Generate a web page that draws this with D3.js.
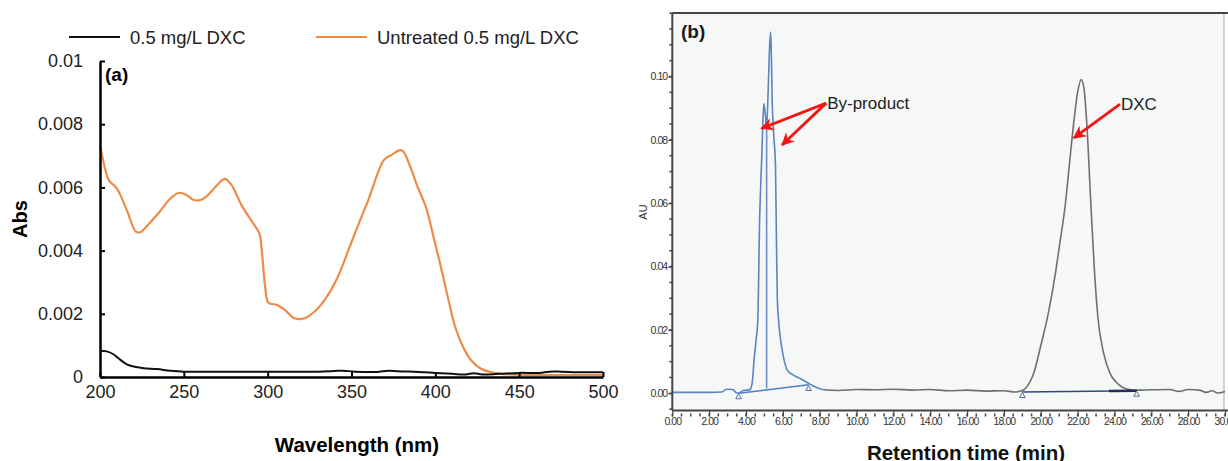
<!DOCTYPE html>
<html>
<head>
<meta charset="utf-8">
<script src="https://cdn.jsdelivr.net/npm/d3@7"></script>
<style>
  body { margin: 0; background: #fff; }
  svg { display: block; font-family: "Liberation Sans", Arial, sans-serif; }
</style>
</head>
<body>
<svg width="1228" height="461"></svg>
<script>
// ---- panel (a): UV-vis spectra ----
var wavelengthTicks = [200, 250, 300, 350, 400, 450, 500];
var absTicks = [0, 0.002, 0.004, 0.006, 0.008, 0.01];
var seriesNames = ['0.5 mg/L DXC', 'Untreated 0.5 mg/L DXC'];

var treated = [
  [200, 0.00083], [204, 0.00081], [208, 0.00072], [212, 0.00055], [216, 0.0004],
  [220, 0.00033], [226, 0.00028], [234, 0.00025], [242, 0.0002], [250, 0.00017],
  [270, 0.00017], [300, 0.00017], [330, 0.00017], [340, 0.00019], [345, 0.0002],
  [352, 0.00017], [365, 0.00016], [372, 0.0002], [378, 0.00018], [390, 0.00016],
  [400, 0.00013], [410, 0.0001], [418, 0.00008], [423, 0.00012], [428, 0.00008],
  [438, 0.0001], [450, 0.00013], [462, 0.00013], [468, 0.00017], [475, 0.00017],
  [485, 0.00015], [500, 0.00015]
];

var untreated = [
  [200, 0.00733], [203, 0.0066], [205.2, 0.00623], [210, 0.00597], [216, 0.00528],
  [221.4, 0.0046], [224, 0.00458], [226.6, 0.0047], [234.8, 0.00518], [242, 0.00565],
  [247.2, 0.00583], [251.5, 0.00576], [256, 0.0056], [260, 0.0056], [263, 0.00569],
  [269, 0.00602], [274.4, 0.00627], [278.4, 0.00608], [284.4, 0.00544], [291.4, 0.00486],
  [295, 0.00455], [296.5, 0.004], [298.5, 0.00286], [300.5, 0.00235], [305.6, 0.00228],
  [310.3, 0.00212], [316, 0.00186], [322, 0.00186], [329, 0.00212], [334, 0.00244],
  [341, 0.00307], [350.5, 0.00434], [360, 0.0056], [369.4, 0.00687], [374, 0.00703],
  [379, 0.00718], [381, 0.00713], [385.8, 0.00655], [389.4, 0.00602], [394.3, 0.00539],
  [398.9, 0.00444], [403.7, 0.00339], [408.3, 0.00233], [411.8, 0.00159], [416.5, 0.00096],
  [421.2, 0.00054], [427, 0.00027], [434.3, 0.00014], [445, 0.00008], [460, 0.00006],
  [480, 0.00006], [500, 0.00006]
];

// ---- panel (b): HPLC chromatogram ----
var timeMajorTicks = d3.range(0, 30.01, 2);
var timeMinorTicks = d3.range(0, 30.01, 0.5);
var auMajorTicks = [0, 0.02, 0.04, 0.06, 0.08, 0.10];
var auMinorTicks = d3.range(-0.005, 0.1201, 0.005);

var byproductTrace = [
  [0, 0.0003], [1, 0.0003], [2, 0.0003], [2.7, 0.0004], [2.9, 0.0012], [3.1, 0.0013],
  [3.3, 0.0011], [3.5, 0.0001], [3.65, 0.0002], [3.85, 0.0009], [4.1, 0.001], [4.23, 0.0012],
  [4.35, 0.004], [4.44, 0.0107], [4.55, 0.017], [4.64, 0.023], [4.74, 0.0548], [4.85, 0.0737],
  [4.92, 0.086], [4.97, 0.0914], [5.05, 0.088], [5.12, 0.084], [5.2, 0.095], [5.27, 0.108],
  [5.34, 0.114], [5.38, 0.106], [5.42, 0.093], [5.5, 0.082], [5.6, 0.072], [5.65, 0.05],
  [5.7, 0.03], [5.77, 0.023], [5.9, 0.016], [6.05, 0.011], [6.23, 0.0074], [6.56, 0.0058],
  [7.0, 0.0045], [7.4, 0.0031], [7.8, 0.0019], [8.2, 0.0011]
];

var dxcTrace = [
  [8.2, 0.0011], [9, 0.0009], [10, 0.0012], [11, 0.0011], [12, 0.0013], [13, 0.001],
  [14, 0.0012], [15, 0.0008], [16, 0.001], [17, 0.0007], [18, 0.0008], [18.6, 0.0004],
  [18.9, 0.0007], [19.1, 0.0012], [19.3, 0.0025], [19.6, 0.006], [20.0, 0.015], [20.4, 0.025],
  [20.8, 0.038], [21.0, 0.046], [21.34, 0.06], [21.55, 0.072], [21.8, 0.086], [22.0, 0.095],
  [22.2, 0.099], [22.35, 0.096], [22.5, 0.085], [22.7, 0.062], [22.9, 0.04], [23.1, 0.024],
  [23.4, 0.013], [23.76, 0.0063], [24.1, 0.0035], [24.4, 0.002], [24.8, 0.0012], [25.2, 0.001],
  [26, 0.0011], [27, 0.0012], [27.5, 0.0006], [28, 0.0012], [28.6, 0.001], [29, 0.0003],
  [29.3, 0.0008], [29.6, 0.0001], [30, 0.0006]
];

var byproductBaseline = [[3.6, 0.0], [7.4, 0.0027]];
var byproductDropLine = [[5.12, 0.0015], [5.12, 0.084]];
var dxcBaseline = [[19.0, 0.0004], [25.2, 0.0008]];
var dxcBaselineBold = [[23.7, 0.0007], [25.2, 0.0008]];
var peakMarkers = [[3.6, -0.0012], [7.4, 0.0014], [19.0, -0.0008], [25.2, -0.0004]];

var annotations = [
  {label: 'By-product', at: [8.35, 0.0916], targets: [[4.84, 0.0836], [5.96, 0.0784]]},
  {label: 'DXC', at: [24.3, 0.0913], targets: [[21.8, 0.0806]]}
];

var svg = d3.select('svg');

// ================= panel (a) =================
var xA = d3.scaleLinear().domain([200, 500]).range([100, 603]);
var yA = d3.scaleLinear().domain([0, 0.01]).range([377, 61]);
var gA = svg.append('g').attr('class', 'panel-a');

var lineA = d3.line()
  .x(d => xA(d[0]))
  .y(d => yA(d[1]))
  .curve(d3.curveCatmullRom.alpha(0.5));

gA.append('path')
  .attr('d', lineA(untreated))
  .attr('fill', 'none')
  .attr('stroke', '#ef8a47')
  .attr('stroke-width', 2.2);

gA.append('path')
  .attr('d', lineA(treated))
  .attr('fill', 'none')
  .attr('stroke', '#111')
  .attr('stroke-width', 2);

var axA_x = gA.append('g')
  .attr('transform', 'translate(0,377)')
  .call(d3.axisBottom(xA).tickValues(wavelengthTicks).tickSize(-5).tickSizeOuter(0).tickPadding(8).tickFormat(d3.format('d')));
var axA_y = gA.append('g')
  .attr('transform', 'translate(100,0)')
  .call(d3.axisLeft(yA).tickValues(absTicks).tickSize(-5).tickSizeOuter(0).tickPadding(17)
    .tickFormat(d => d === 0 ? '0' : d3.format('')(+d.toFixed(3))));

[axA_x, axA_y].forEach(function(ax) {
  ax.select('.domain').attr('stroke', '#000').attr('stroke-width', 2.5);
  ax.selectAll('.tick line').attr('stroke', '#000').attr('stroke-width', 2);
  ax.selectAll('.tick text').attr('font-size', 18).attr('fill', '#222')
    .attr('font-family', '"Liberation Sans", Arial, sans-serif');
});

gA.append('text')
  .attr('x', 105).attr('y', 81)
  .attr('font-size', 19).attr('font-weight', 'bold')
  .text('(a)');

gA.append('text')
  .attr('transform', 'translate(27,219) rotate(-90)')
  .attr('text-anchor', 'middle')
  .attr('font-size', 20).attr('font-weight', 'bold')
  .text('Abs');

gA.append('text')
  .attr('x', 357).attr('y', 452)
  .attr('text-anchor', 'middle')
  .attr('font-size', 20.5).attr('font-weight', 'bold')
  .text('Wavelength (nm)');

// legend
var legend = gA.append('g').attr('class', 'legend');
var legendItems = [
  {name: seriesNames[0], color: '#111', x: 69},
  {name: seriesNames[1], color: '#ef8a47', x: 316}
];
legendItems.forEach(function(item) {
  legend.append('line')
    .attr('x1', item.x).attr('x2', item.x + 51)
    .attr('y1', 37).attr('y2', 37)
    .attr('stroke', item.color).attr('stroke-width', 2.2);
  legend.append('text')
    .attr('x', item.x + 61).attr('y', 43.5)
    .attr('font-size', 18.5).attr('fill', '#222')
    .text(item.name);
});

// ================= panel (b) =================
var xB = d3.scaleLinear().domain([0, 30]).range([672.3, 1225]);
var yB = d3.scaleLinear().domain([0, 0.10]).range([393.3, 76.5]);
var frameTop = 13, frameBottom = 410.5;
var gB = svg.append('g').attr('class', 'panel-b');

gB.append('rect')
  .attr('x', xB(0)).attr('y', frameTop)
  .attr('width', 1224 - xB(0)).attr('height', frameBottom - frameTop)
  .attr('fill', '#f6f8f8');
gB.append('line')
  .attr('x1', 1224).attr('x2', 1224).attr('y1', frameTop).attr('y2', frameBottom)
  .attr('stroke', '#c4c4c4').attr('stroke-width', 1.5);
gB.append('line')
  .attr('x1', xB(0)).attr('x2', 1228).attr('y1', frameTop).attr('y2', frameTop)
  .attr('stroke', '#444').attr('stroke-width', 2);

var lineB = d3.line()
  .x(d => xB(d[0]))
  .y(d => yB(d[1]));

gB.append('path')
  .attr('d', lineB.curve(d3.curveMonotoneX)(dxcTrace))
  .attr('fill', 'none').attr('stroke', '#6f6f6f').attr('stroke-width', 1.6);

gB.append('path')
  .attr('d', lineB.curve(d3.curveLinear)(byproductBaseline))
  .attr('fill', 'none').attr('stroke', '#4f7fc0').attr('stroke-width', 1.5);
gB.append('path')
  .attr('d', lineB(byproductDropLine))
  .attr('fill', 'none').attr('stroke', '#6f90c6').attr('stroke-width', 1.6);
gB.append('path')
  .attr('d', lineB.curve(d3.curveMonotoneX)(byproductTrace))
  .attr('fill', 'none').attr('stroke', '#5b84c0').attr('stroke-width', 1.6);

gB.append('path')
  .attr('d', lineB.curve(d3.curveLinear)(dxcBaseline))
  .attr('fill', 'none').attr('stroke', '#2c4a80').attr('stroke-width', 1.5);
gB.append('path')
  .attr('d', lineB(dxcBaselineBold))
  .attr('fill', 'none').attr('stroke', '#1f2f55').attr('stroke-width', 2.5);

gB.selectAll('.pk-marker')
  .data(peakMarkers)
  .enter().append('path')
  .attr('class', 'pk-marker')
  .attr('transform', d => 'translate(' + xB(d[0]) + ',' + yB(d[1]) + ')')
  .attr('d', d3.symbol(d3.symbolTriangle, 14))
  .attr('fill', 'none').attr('stroke', '#55739e').attr('stroke-width', 1);

// axes of panel (b)
var axB_y = gB.append('g')
  .attr('transform', 'translate(' + xB(0) + ',0)');
axB_y.append('line')
  .attr('x1', 0).attr('x2', 0).attr('y1', frameTop).attr('y2', frameBottom)
  .attr('stroke', '#444').attr('stroke-width', 2);
axB_y.selectAll('.minor')
  .data(auMinorTicks)
  .enter().append('line')
  .attr('class', 'minor')
  .attr('x1', -3).attr('x2', 0)
  .attr('y1', d => yB(d)).attr('y2', d => yB(d))
  .attr('stroke', '#444').attr('stroke-width', 1.5);
axB_y.call(d3.axisLeft(yB).tickValues(auMajorTicks).tickSize(4).tickSizeOuter(0).tickPadding(1).tickFormat(d3.format('.2f')));
axB_y.select('.domain').remove();
axB_y.selectAll('.tick line').attr('stroke', '#444').attr('stroke-width', 1.2);
axB_y.selectAll('.tick text')
  .attr('font-size', 10.5).attr('letter-spacing', -0.9).attr('fill', '#333')
  .attr('font-family', '"Liberation Sans", Arial, sans-serif');

var axB_x = gB.append('g')
  .attr('transform', 'translate(0,' + frameBottom + ')');
axB_x.append('line')
  .attr('x1', xB(0)).attr('x2', 1228).attr('y1', 0).attr('y2', 0)
  .attr('stroke', '#444').attr('stroke-width', 2);
axB_x.selectAll('.minor')
  .data(timeMinorTicks)
  .enter().append('line')
  .attr('class', 'minor')
  .attr('x1', d => xB(d)).attr('x2', d => xB(d))
  .attr('y1', 3).attr('y2', 6)
  .attr('stroke', '#444').attr('stroke-width', 1.5);
axB_x.call(d3.axisBottom(xB).tickValues(timeMajorTicks).tickSize(6).tickSizeOuter(0).tickPadding(1).tickFormat(d3.format('.2f')));
axB_x.select('.domain').remove();
axB_x.selectAll('.tick line').attr('stroke', '#444').attr('stroke-width', 1.2);
axB_x.selectAll('.tick text')
  .attr('font-size', 10.5).attr('letter-spacing', -0.9).attr('fill', '#333')
  .attr('font-family', '"Liberation Sans", Arial, sans-serif');

gB.append('text')
  .attr('transform', 'translate(647,212) rotate(-90)')
  .attr('text-anchor', 'middle')
  .attr('font-size', 11).attr('fill', '#333')
  .text('AU');

gB.append('text')
  .attr('x', 681).attr('y', 38)
  .attr('font-size', 19).attr('font-weight', 'bold').attr('fill', '#1a1a1a')
  .text('(b)');

gB.append('text')
  .attr('x', 966).attr('y', 460)
  .attr('text-anchor', 'middle')
  .attr('font-size', 20.5).attr('font-weight', 'bold').attr('fill', '#111')
  .text('Retention time (min)');

// red arrows + labels
svg.append('defs').append('marker')
  .attr('id', 'arrowhead')
  .attr('viewBox', '0 0 10 10')
  .attr('refX', 9).attr('refY', 5)
  .attr('markerWidth', 16).attr('markerHeight', 13)
  .attr('markerUnits', 'userSpaceOnUse')
  .attr('orient', 'auto')
  .append('path')
  .attr('d', 'M0,0 L10,5 L0,10 L3,5 Z')
  .attr('fill', '#f41414');

annotations.forEach(function(a) {
  var sx = xB(a.at[0]), sy = yB(a.at[1]);
  a.targets.forEach(function(t) {
    gB.append('line')
      .attr('x1', sx).attr('y1', sy)
      .attr('x2', xB(t[0])).attr('y2', yB(t[1]))
      .attr('stroke', '#f41414').attr('stroke-width', 2.8)
      .attr('marker-end', 'url(#arrowhead)');
  });
  gB.append('text')
    .attr('x', sx + 1).attr('y', sy + 6)
    .attr('font-size', 17).attr('fill', '#222')
    .text(a.label);
});
</script>
</body>
</html>
